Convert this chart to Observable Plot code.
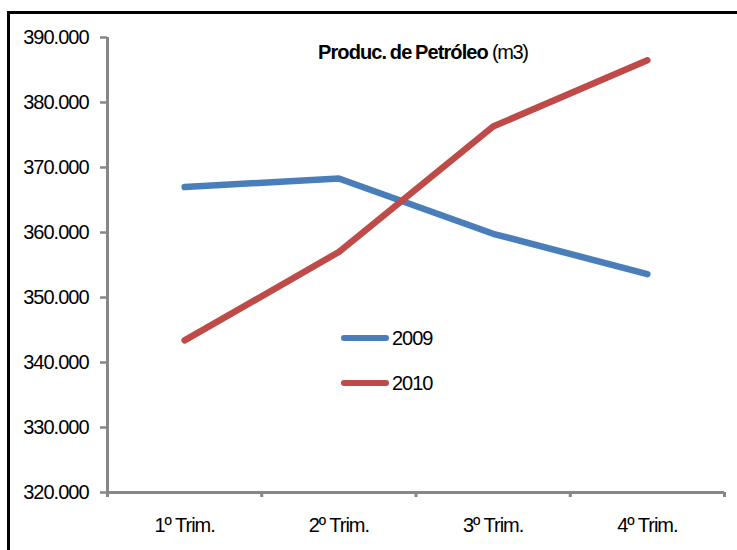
<!DOCTYPE html>
<html>
<head>
<meta charset="utf-8">
<script src="https://cdn.jsdelivr.net/npm/d3@7"></script>
<script src="https://cdn.jsdelivr.net/npm/@observablehq/plot@0.6"></script>
<style>
  html, body { margin: 0; padding: 0; background: #fff; }
  body { width: 737px; height: 550px; position: relative; overflow: hidden;
         font-family: "Liberation Sans", Arial, sans-serif; }
  #frame { position: absolute; left: 7px; top: 11px; width: 2000px; height: 2000px;
           border-left: 3px solid #000; border-top: 3px solid #000; }
  #chart { position: absolute; left: 0; top: 0; }
  #chart text { letter-spacing: -1px; }
  #title { position: absolute; left: 318px; top: 40px; color: #000; white-space: nowrap; line-height: 24px; }
  #title b { font-size: 20px; letter-spacing: -0.9px; word-spacing: -1px; }
  #title span { font-size: 20px; letter-spacing: -1.4px; }
  .leg { position: absolute; font-size: 20px; color: #000; letter-spacing: -1px; }
  .leg span.sw { position: absolute; width: 48px; height: 6px; border-radius: 3px; }
  .leg span.tx { position: absolute; line-height: 24px; }
</style>
</head>
<body>
<div id="frame"></div>
<div id="chart"></div>
<div id="title"><b>Produc. de Petróleo</b><span> (m3)</span></div>
<div id="legend"></div>
<script>
const categories = ["1º Trim.", "2º Trim.", "3º Trim.", "4º Trim."];
const series = ["2009", "2010"];
const values2009 = [367000, 368300, 359800, 353600];
const values2010 = [343400, 357000, 376300, 386500];
const yTicks = [320000, 330000, 340000, 350000, 360000, 370000, 380000, 390000];
const colors = ["#4a7ebb", "#be4b48"];

const rows = [];
[values2009, values2010].forEach((vals, s) => {
  vals.forEach((v, i) => rows.push({series: series[s], idx: i + 1, value: v}));
});

const fmt = d3.formatLocale({decimal: ",", thousands: ".", grouping: [3], currency: ["", ""]}).format(",.0f");
const axisGray = "#878787";
const boundaries = d3.range(categories.length + 1).map(i => i + 0.5);

const chart = Plot.plot({
  width: 737,
  height: 550,
  marginLeft: 107,
  marginRight: 13,
  marginTop: 37,
  marginBottom: 58,
  style: {fontFamily: "'Liberation Sans', Arial, sans-serif", fontSize: "20px", color: "#000", background: "transparent"},
  x: {type: "linear", domain: [0.5, categories.length + 0.5]},
  y: {domain: [yTicks[0], yTicks[yTicks.length - 1]]},
  color: {domain: series, range: colors},
  marks: [
    Plot.axisY({ticks: yTicks, tickFormat: fmt, tickSize: 7, tickPadding: 12, stroke: axisGray, strokeWidth: 2.5, fill: "#000", label: null}),
    Plot.axisX({ticks: boundaries, tickFormat: () => "", tickSize: 5, stroke: axisGray, strokeWidth: 3, label: null}),
    Plot.axisX({ticks: d3.range(1, categories.length + 1), tickFormat: d => categories[d - 1], tickSize: 0, tickPadding: 25, fill: "#000", label: null}),
    Plot.ruleX([boundaries[0]], {y1: yTicks[0], y2: yTicks[yTicks.length - 1], stroke: axisGray, strokeWidth: 3}),
    Plot.ruleY([yTicks[0]], {x1: boundaries[0], x2: boundaries[boundaries.length - 1], stroke: axisGray, strokeWidth: 3}),
    Plot.line(rows, {x: "idx", y: "value", z: "series", stroke: "series", strokeWidth: 6.5, strokeLinecap: "round", strokeLinejoin: "round"})
  ]
});
document.getElementById("chart").appendChild(chart);

const legend = document.getElementById("legend");
series.forEach((s, i) => {
  const d = document.createElement("div");
  d.className = "leg";
  d.style.left = "341px";
  d.style.top = (335 + i * 44.5) + "px";
  d.innerHTML = `<span class="sw" style="background:${colors[i]};left:0;top:0"></span><span class="tx" style="left:51px;top:-9px">${s}</span>`;
  legend.appendChild(d);
});
</script>
</body>
</html>
